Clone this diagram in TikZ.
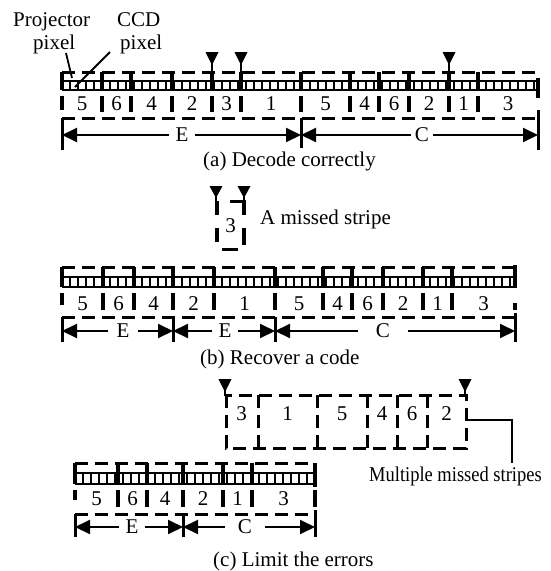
\documentclass[tikz,border=0pt]{standalone}
\usepackage{fontspec}
\setmainfont{Liberation Serif}
\usetikzlibrary{arrows.meta}
\newcommand\pixrow[4]{%
  \pgfmathsetmacro\pxnext{#1+8}%
  \foreach \xx in {#1,\pxnext,...,#2} {\draw[pix] (\xx,#3) -- (\xx,#4);}%
  \draw[pix] (#1,#3) -- (#2,#3);%
  \draw[line width=2.2pt] (#1,#4) -- (#2,#4);}
\newcommand\bounds[5]{%
  \foreach \xx in {#1} {\draw[bnd] (\xx,#2) -- (\xx,#3); \draw[bnd] (\xx,#4) -- (\xx,#5);}}
\newcommand\downtri[3]{%
  \fill (#1-6.5,#2) -- (#1+6.5,#2) -- (#1,#3) -- cycle;}
\begin{document}
\begin{tikzpicture}[x=1pt,y=-1pt, font=\fontsize{21}{24}\selectfont,
  dsh/.style={line width=3pt, dash pattern=on 13pt off 7pt},
  bnd/.style={line width=3.5pt},
  pix/.style={line width=1.2pt},
  endbar/.style={line width=3pt},
  dimarr/.style={line width=2pt, -{Triangle[length=15pt,width=14pt]}},
  lead/.style={line width=1.8pt},
  txt/.style={inner sep=0pt, anchor=base west},
  num/.style={inner sep=0pt, anchor=base},
  tag/.style={inner ysep=0pt, inner xsep=#1, anchor=center},
  tag/.default=5pt]
\useasboundingbox (0,0) rectangle (550,571);

% ---------- labels at the top
\node[txt] (projlbl) at (13,26) {Projector};
\node[txt] (projpx) at (33,49) {pixel};
\node[txt] (ccdlbl) at (117,26) {CCD};
\node[txt] (ccdpx) at (120,49) {pixel};
\coordinate (pp1) at (66,53); \coordinate (pp2) at (72,78);
\coordinate (cp1) at (110,52); \coordinate (cp2) at (75,87);
\draw[lead] (pp1) -- (pp2);
\draw[lead] (cp1) -- (cp2);

% ---------- strip (a)
\pixrow{62}{538}{81}{90}
\draw[dsh] (62,72) -- (538,72);
\draw[dsh] (62,118) -- (538,118);
\bounds{102,131,172,212,241,301,350,379,409,449,478}{72}{90}{96}{112}
\draw[bnd] (62,72) -- (62,90); \draw[bnd] (62,96) -- (62,110);
\draw[bnd] (538,78) -- (538,98);
\foreach \xx in {212,241,449} {\downtri{\xx}{52}{65} \draw[line width=2.5pt] (\xx,58) -- (\xx,72);}
\foreach \xx/\t [count=\k] in {82/5,116.5/6,151.5/4,192/2,226.5/3,271/1,325.5/5,364.5/4,394/6,429/2,463.5/1,508/3}
  {\node[num] (na\k) at (\xx,110) {\t};}
\draw[endbar] (62,118) -- (62,150);
\draw[endbar] (301,118) -- (301,148);
\draw[endbar] (538,110) -- (538,150);
\coordinate (aL) at (62,135); \coordinate (aM) at (301,135); \coordinate (aR) at (538,135);
\node[tag=6pt] (aE) at (182,135) {E};
\node[tag=4pt] (aC) at (422,135) {C};
\draw[dimarr] (aE.west) -- (aL); \draw[dimarr] (aE.east) -- (aM);
\draw[dimarr] (aC.west) -- (aM); \draw[dimarr] (aC.east) -- (aR);
\node[txt] (capa) at (203,166) {(a) Decode correctly};

% ---------- a missed stripe
\downtri{216}{186}{198} \draw[line width=2.5pt] (216,192) -- (216,201);
\downtri{244}{186}{198} \draw[line width=2.5pt] (244,192) -- (244,201);
\draw[bnd] (217,201) -- (217,215); \draw[bnd] (217,228) -- (217,242);
\draw[bnd] (244,200) -- (244,215); \draw[bnd] (244,228) -- (244,245);
\draw[line width=3pt] (230,201) -- (245,201);
\draw[line width=3pt] (222,249) -- (238,249);
\node[num] (ms3) at (230.5,232) {3};
\node[txt] (missed) at (260,224) {A missed stripe};

% ---------- strip (b)
\pixrow{62}{515}{277}{287}
\draw[dsh] (62,267) -- (515,267);
\draw[dsh] (62,317) -- (515,317);
\bounds{103,134,173,214,275,323,352,383,423,452}{267}{287}{293}{310}
\draw[bnd] (62,267) -- (62,287); \draw[bnd] (62,293) -- (62,305);
\draw[bnd] (515,265) -- (515,288); \draw[bnd] (515,303) -- (515,310);
\foreach \xx/\t [count=\k] in {82.5/5,118.5/6,153.5/4,193.5/2,244.5/1,299/5,337.5/4,367.5/6,403/2,437.5/1,483.5/3}
  {\node[num] (nb\k) at (\xx,310) {\t};}
\draw[endbar] (62,317) -- (62,342);
\draw[endbar] (173,317) -- (173,342);
\draw[endbar] (275,317) -- (275,342);
\draw[endbar] (515,313) -- (515,342);
\coordinate (bL) at (62,331); \coordinate (bM1) at (173,331);
\coordinate (bM2) at (275,331); \coordinate (bR) at (515,331);
\node[tag=8pt] (bE1) at (123,331) {E};
\node[tag=6pt] (bE2) at (225,331) {E};
\node[tag=18pt] (bC) at (383,331) {C};
\draw[dimarr] (bE1.west) -- (bL); \draw[dimarr] (bE1.east) -- (bM1);
\draw[dimarr] (bE2.west) -- (bM1); \draw[dimarr] (bE2.east) -- (bM2);
\draw[dimarr] (bC.west) -- (bM2); \draw[dimarr] (bC.east) -- (bR);
\node[txt] (capb) at (200,364) {(b) Recover a code};

% ---------- multiple missed stripes
\downtri{225}{379}{392} \draw[line width=2.5pt] (225,386) -- (225,396);
\downtri{465}{379}{392} \draw[line width=2.5pt] (465,386) -- (465,396);
\draw[dsh] (226,395) rectangle (466,448);
\foreach \xx in {258,317,367,397,427} {\draw[dsh] (\xx,395) -- (\xx,448);}
\foreach \xx/\t [count=\k] in {241.5/3,287.5/1,342/5,382/4,412/6,446.5/2}
  {\node[num] (nm\k) at (\xx,420) {\t};}
\coordinate (mbE) at (467,420); \coordinate (mlead) at (512,463);
\draw[line width=1.5pt] (mbE) -| (mlead);
\node[txt] (multi) at (369,481) {\scalebox{0.88}[1]{Multiple missed stripes}};

% ---------- strip (c)
\pixrow{75}{315}{473}{484}
\draw[dsh] (75,463) -- (315,463);
\draw[dsh] (75,514) -- (315,514);
\bounds{118,147,183,223,252}{463}{484}{490}{507}
\draw[bnd] (75,463) -- (75,484); \draw[bnd] (75,490) -- (75,500);
\draw[bnd] (315,463) -- (315,487); \draw[bnd] (315,490) -- (315,507);
\foreach \xx/\t [count=\k] in {96.5/5,132.5/6,165/4,203/2,237.5/1,283.5/3}
  {\node[num] (nc\k) at (\xx,505) {\t};}
\draw[endbar] (75,514) -- (75,537);
\draw[endbar] (183,514) -- (183,537);
\draw[endbar] (315,510) -- (315,537);
\coordinate (cL) at (75,527); \coordinate (cM) at (183,527); \coordinate (cR) at (315,527);
\node[tag=6pt] (cE) at (132,527) {E};
\node[tag=13pt] (cC) at (245,527) {C};
\draw[dimarr] (cE.west) -- (cL); \draw[dimarr] (cE.east) -- (cM);
\draw[dimarr] (cC.west) -- (cM); \draw[dimarr] (cC.east) -- (cR);
\node[txt] (capc) at (213,566) {(c) Limit the errors};
\end{tikzpicture}
\end{document}
